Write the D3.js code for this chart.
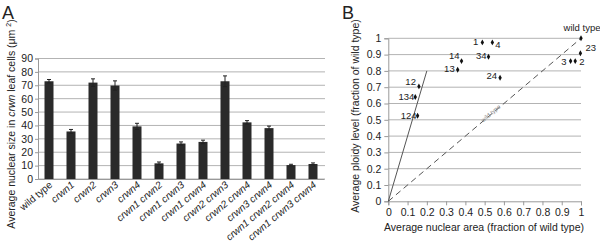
<!DOCTYPE html>
<html>
<head>
<meta charset="utf-8">
<script src="https://cdn.jsdelivr.net/npm/d3@7"></script>
<style>
  body { margin: 0; background: #fff; }
  text { font-family: "Liberation Sans", Arial, sans-serif; fill: #222; }
</style>
</head>
<body>
<script>
// panel A data
var genotypes = ['wild type', 'crwn1', 'crwn2', 'crwn3', 'crwn4', 'crwn1 crwn2', 'crwn1 crwn3',
  'crwn1 crwn4', 'crwn2 crwn3', 'crwn2 crwn4', 'crwn3 crwn4', 'crwn1 crwn2 crwn4', 'crwn1 crwn3 crwn4'];
var nucSize = [73, 35.5, 72, 69.8, 39.3, 11.7, 26.5, 27.7, 73, 42.3, 38, 10.4, 11.2];
var nucErr = [1.3, 1.5, 2.8, 3.5, 2.3, 1, 1.2, 1.3, 4, 1.3, 1.5, 0.6, 0.8];
var yTicksA = [0, 10, 20, 30, 40, 50, 60, 70, 80, 90];

// panel B data
var ptLabels = ['wild type', '23', '3', '2', '1', '4', '14', '34', '13', '24', '12', '134', '124'];
var ptArea = [1.0, 0.997, 0.946, 0.97, 0.488, 0.54, 0.38, 0.52, 0.36, 0.58, 0.159, 0.14, 0.152];
var ptPloidy = [1.0, 0.908, 0.86, 0.86, 0.975, 0.975, 0.86, 0.887, 0.807, 0.758, 0.705, 0.64, 0.525];
var bTicks = [0, 0.1, 0.2, 0.3, 0.4, 0.5, 0.6, 0.7, 0.8, 0.9, 1];

var svg = d3.select('body').append('svg')
  .attr('width', 600)
  .attr('height', 251);

// ---------- PANEL A ----------
svg.append('text').attr('x', 2).attr('y', 18.5)
  .style('font-size', '18px').text('A');

var xA = d3.scaleBand().domain(genotypes).range([38, 324]);
var yA = d3.scaleLinear().domain([0, 90]).range([179, 58.5]);

// gridlines
svg.append('g').selectAll('line').data(yTicksA).enter().append('line')
  .attr('x1', 38).attr('x2', 325)
  .attr('y1', function (d) { return yA(d); })
  .attr('y2', function (d) { return yA(d); })
  .attr('stroke', '#b3b3b3').attr('stroke-width', 1);

// y axis
var gyA = svg.append('g').attr('transform', 'translate(38,0)')
  .call(d3.axisLeft(yA).tickValues(yTicksA).tickSize(3).tickPadding(2));
gyA.select('.domain').attr('stroke', '#999');
gyA.selectAll('.tick line').attr('stroke', '#999');
gyA.selectAll('.tick text').style('font-size', '10.5px').style('font-family', '"Liberation Sans", Arial, sans-serif').attr('fill', '#222');

// x axis
var gxA = svg.append('g').attr('transform', 'translate(0,179)')
  .call(d3.axisBottom(xA).tickSize(0).tickFormat(''));
gxA.select('.domain').attr('stroke', '#999');

svg.append('g').selectAll('text').data(genotypes).enter().append('text')
  .attr('transform', function (d) {
    return 'translate(' + (xA(d) + xA.bandwidth() / 2 + 4) + ',186) rotate(-40)';
  })
  .attr('text-anchor', 'end')
  .style('font-size', '10px')
  .style('font-style', function (d) { return d == 'wild type' ? 'normal' : 'italic'; })
  .text(function (d) { return d; });

// bars
var barW = 9;
svg.append('g').selectAll('rect').data(nucSize).enter().append('rect')
  .attr('x', function (d, i) { return xA(genotypes[i]) + xA.bandwidth() / 2 - barW / 2; })
  .attr('y', function (d) { return yA(d); })
  .attr('width', barW)
  .attr('height', function (d) { return yA(0) - yA(d); })
  .attr('fill', '#2a2a2a');

// error bars
var eb = svg.append('g').attr('stroke', '#222').attr('stroke-width', 1);
nucSize.forEach(function (v, i) {
  var cx = xA(genotypes[i]) + xA.bandwidth() / 2;
  eb.append('line').attr('x1', cx).attr('x2', cx)
    .attr('y1', yA(v - nucErr[i])).attr('y2', yA(v + nucErr[i]));
  eb.append('line').attr('x1', cx - 2).attr('x2', cx + 2)
    .attr('y1', yA(v + nucErr[i])).attr('y2', yA(v + nucErr[i]));
  eb.append('line').attr('x1', cx - 2).attr('x2', cx + 2)
    .attr('y1', yA(v - nucErr[i])).attr('y2', yA(v - nucErr[i]));
});

// y label
var yLab = svg.append('text')
  .attr('transform', 'translate(15,124) rotate(-90)')
  .attr('text-anchor', 'middle')
  .style('font-size', '10.5px');
yLab.append('tspan').text('Average nuclear size in ');
yLab.append('tspan').style('font-style', 'italic').text('crwn');
yLab.append('tspan').text(' leaf cells (\u03bcm ');
yLab.append('tspan').attr('dy', -4).style('font-size', '7px').text('2');
yLab.append('tspan').attr('dy', 4).text(')');

// ---------- PANEL B ----------
svg.append('text').attr('x', 342).attr('y', 19)
  .style('font-size', '18px').text('B');

var xB = d3.scaleLinear().domain([0, 1]).range([388.3, 581]);
var yB = d3.scaleLinear().domain([0, 1]).range([201.3, 38.3]);

svg.append('g').selectAll('line').data(bTicks.slice(1)).enter().append('line')
  .attr('x1', xB(0)).attr('x2', xB(1))
  .attr('y1', function (d) { return yB(d); })
  .attr('y2', function (d) { return yB(d); })
  .attr('stroke', '#b3b3b3');

var gyB = svg.append('g').attr('transform', 'translate(' + xB(0) + ',0)')
  .call(d3.axisLeft(yB).tickValues(bTicks).tickSize(4).tickPadding(3)
    .tickFormat(function (d) { return d; }));
gyB.select('.domain').attr('stroke', '#999');
gyB.selectAll('.tick line').attr('stroke', '#999');
gyB.selectAll('.tick text').style('font-size', '10.5px').style('font-family', '"Liberation Sans", Arial, sans-serif').attr('fill', '#222');

var gxB = svg.append('g').attr('transform', 'translate(0,' + yB(0) + ')')
  .call(d3.axisBottom(xB).tickValues(bTicks).tickSize(4).tickPadding(3)
    .tickFormat(function (d) { return d; }));
gxB.select('.domain').attr('stroke', '#999');
gxB.selectAll('.tick line').attr('stroke', '#999');
gxB.selectAll('.tick text').style('font-size', '10.5px').style('font-family', '"Liberation Sans", Arial, sans-serif').attr('fill', '#222');

svg.append('text').attr('x', 484).attr('y', 231)
  .attr('text-anchor', 'middle').style('font-size', '10.5px')
  .text('Average nuclear area (fraction of wild type)');

svg.append('text')
  .attr('transform', 'translate(359,116) rotate(-90)')
  .attr('text-anchor', 'middle').style('font-size', '10.5px')
  .text('Average ploidy level (fraction of wild type)');

// reference lines
svg.append('line')
  .attr('x1', xB(0)).attr('y1', yB(0)).attr('x2', xB(0.2)).attr('y2', yB(0.8))
  .attr('stroke', '#555').attr('stroke-width', 1);
svg.append('line')
  .attr('x1', xB(0)).attr('y1', yB(0)).attr('x2', xB(1)).attr('y2', yB(1))
  .attr('stroke', '#555').attr('stroke-width', 1).attr('stroke-dasharray', '6,4');

var ang = Math.atan2(yB(1) - yB(0), xB(1) - xB(0)) * 180 / Math.PI;
svg.append('text')
  .attr('transform', 'translate(' + xB(0.535) + ',' + yB(0.535) + ') rotate(' + ang + ')')
  .attr('text-anchor', 'middle')
  .attr('dy', 1)
  .style('font-size', '6px').style('fill', '#888')
  .text('wild type');

// points
svg.append('g').selectAll('path').data(ptArea).enter().append('path')
  .attr('d', d3.symbol().type(d3.symbolDiamond).size(10))
  .attr('transform', function (d, i) { return 'translate(' + xB(d) + ',' + yB(ptPloidy[i]) + ')'; })
  .attr('fill', '#111');

// point label offsets (dx, dy, anchor)
var lblPos = {
  'wild type': [1, -7, 'middle'], '23': [5, -2, 'start'], '3': [-4, 4, 'end'], '2': [4, 4, 'start'],
  '1': [-4, 3, 'end'], '4': [3, 6, 'start'], '14': [-2, -2, 'end'], '34': [-2, 2, 'end'],
  '13': [-3, 2, 'end'], '24': [-3, 1, 'end'], '12': [-3, -1, 'end'], '134': [-1, 3, 'end'],
  '124': [-1, 3, 'end']
};
svg.append('g').selectAll('text').data(ptLabels).enter().append('text')
  .attr('x', function (d, i) { return xB(ptArea[i]) + lblPos[d][0]; })
  .attr('y', function (d, i) { return yB(ptPloidy[i]) + lblPos[d][1]; })
  .attr('text-anchor', function (d) { return lblPos[d][2]; })
  .style('font-size', '9.5px')
  .text(function (d) { return d; });
</script>
</body>
</html>
